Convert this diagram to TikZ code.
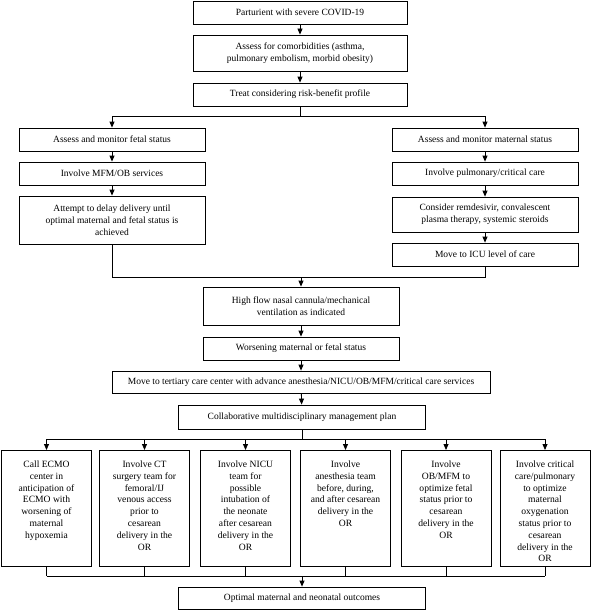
\documentclass[tikz,border=0pt]{standalone}
\usepackage{fontspec}
\setmainfont{Liberation Serif}
\usetikzlibrary{arrows.meta}
\begin{document}
\begin{tikzpicture}[x=1pt,y=-1pt,
  box/.style={draw, line width=0.8pt, inner sep=1pt, align=center, font=\fontsize{9.5}{12}\selectfont},
  bbox/.style={draw, line width=0.8pt, inner sep=0pt, anchor=north, minimum width=90, minimum height=116, font=\fontsize{9.6}{11.8}\selectfont},
  arr/.style={-{Triangle[width=5pt,length=6pt]}, line width=0.8pt},
  ln/.style={line width=0.8pt}]
\useasboundingbox (0,0) rectangle (591,610);
\fill[white] (0,0) rectangle (591,610);
\newcommand{\bt}[1]{\parbox[t][112pt][t]{88pt}{\centering\rule{0pt}{15pt}#1}}
% top chain
\node[box, minimum width=214, minimum height=23] (b1) at (300,12.5) {Parturient with severe COVID-19};
\node[box, minimum width=214, minimum height=36] (b2) at (300,53) {Assess for comorbidities (asthma,\\pulmonary embolism, morbid obesity)};
\node[box, minimum width=214, minimum height=23] (b3) at (300,94.5) {Treat considering risk-benefit profile};
% left column
\node[box, minimum width=186, minimum height=23] (l1) at (112,139.5) {Assess and monitor fetal status};
\node[box, minimum width=186, minimum height=23] (l2) at (112,173.5) {Involve MFM/OB services};
\node[box, minimum width=186, minimum height=48] (l3) at (112,220) {Attempt to delay delivery until\\optimal maternal and fetal status is\\achieved};
% right column
\node[box, minimum width=186, minimum height=23] (r1) at (485,139.5) {Assess and monitor maternal status};
\node[box, minimum width=186, minimum height=23] (r2) at (485,173.5) {Involve pulmonary/critical care};
\node[box, minimum width=186, minimum height=35] (r3) at (485,214.5) {Consider remdesivir, convalescent\\plasma therapy, systemic steroids};
\node[box, minimum width=186, minimum height=23] (r4) at (485,254.5) {Move to ICU level of care};
% middle
\node[box, minimum width=196, minimum height=38] (h) at (301,306) {High flow nasal cannula/mechanical\\ventilation as indicated};
\node[box, minimum width=196, minimum height=23] (w) at (301,348.5) {Worsening maternal or fetal status};
\node[box, minimum width=378, minimum height=22] (t) at (301,382) {Move to tertiary care center with advance anesthesia/NICU/OB/MFM/critical care services};
\node[box, minimum width=247, minimum height=24] (c) at (302,417) {Collaborative multidisciplinary management plan};
% bottom boxes
\node[bbox] (k1) at (46.5,450) {\bt{Call ECMO\\center in\\anticipation of\\ECMO with\\worsening of\\maternal\\hypoxemia}};
\node[bbox] (k2) at (144.5,450) {\bt{Involve CT\\surgery team for\\femoral/IJ\\venous access\\prior to\\cesarean\\delivery in the\\OR}};
\node[bbox] (k3) at (245.5,450) {\bt{Involve NICU\\team for\\possible\\intubation of\\the neonate\\after cesarean\\delivery in the\\OR}};
\node[bbox] (k4) at (345.5,450) {\bt{Involve\\anesthesia team\\before, during,\\and after cesarean\\delivery in the\\OR}};
\node[bbox] (k5) at (446,450) {\bt{Involve\\OB/MFM to\\optimize fetal\\status prior to\\cesarean\\delivery in the\\OR}};
\node[bbox] (k6) at (545,450) {\bt{Involve critical\\care/pulmonary\\to optimize\\maternal\\oxygenation\\status prior to\\cesarean\\delivery in the\\OR}};
\node[box, minimum width=247, minimum height=22] (o) at (302,598) {Optimal maternal and neonatal outcomes};
% coordinates
\coordinate (s1) at (300,116);
\coordinate (m1) at (301,277);
\coordinate (s2) at (302,439);
\coordinate (m2) at (302,576);
% connectors
\draw[arr] (b1) -- (b2);
\draw[arr] (b2) -- (b3);
\draw[ln] (b3.south) -- (s1);
\draw[ln] (l1.north |- s1) -- (r1.north |- s1);
\draw[arr] (l1.north |- s1) -- (l1.north);
\draw[arr] (r1.north |- s1) -- (r1.north);
\draw[arr] (l1) -- (l2);
\draw[arr] (l2) -- (l3);
\draw[arr] (r1) -- (r2);
\draw[arr] (r2) -- (r3);
\draw[arr] (r3) -- (r4);
\draw[ln] (l3.south) -- (l3.south |- m1) -- (r4.south |- m1) -- (r4.south);
\draw[arr] (m1) -- (h.north);
\draw[arr] (h) -- (w);
\draw[arr] (w) -- (t);
\draw[arr] (t) -- (c);
\draw[ln] (c.south) -- (s2);
\draw[ln] (k1.north |- s2) -- (k6.north |- s2);
\foreach \k in {k1,k2,k3,k4,k5,k6}{
  \draw[arr] (\k.north |- s2) -- (\k.north);
  \draw[ln] (\k.south) -- (\k.south |- m2);
}
\draw[ln] (k1.south |- m2) -- (k6.south |- m2);
\draw[arr] (m2) -- (o.north);
\end{tikzpicture}
\end{document}
